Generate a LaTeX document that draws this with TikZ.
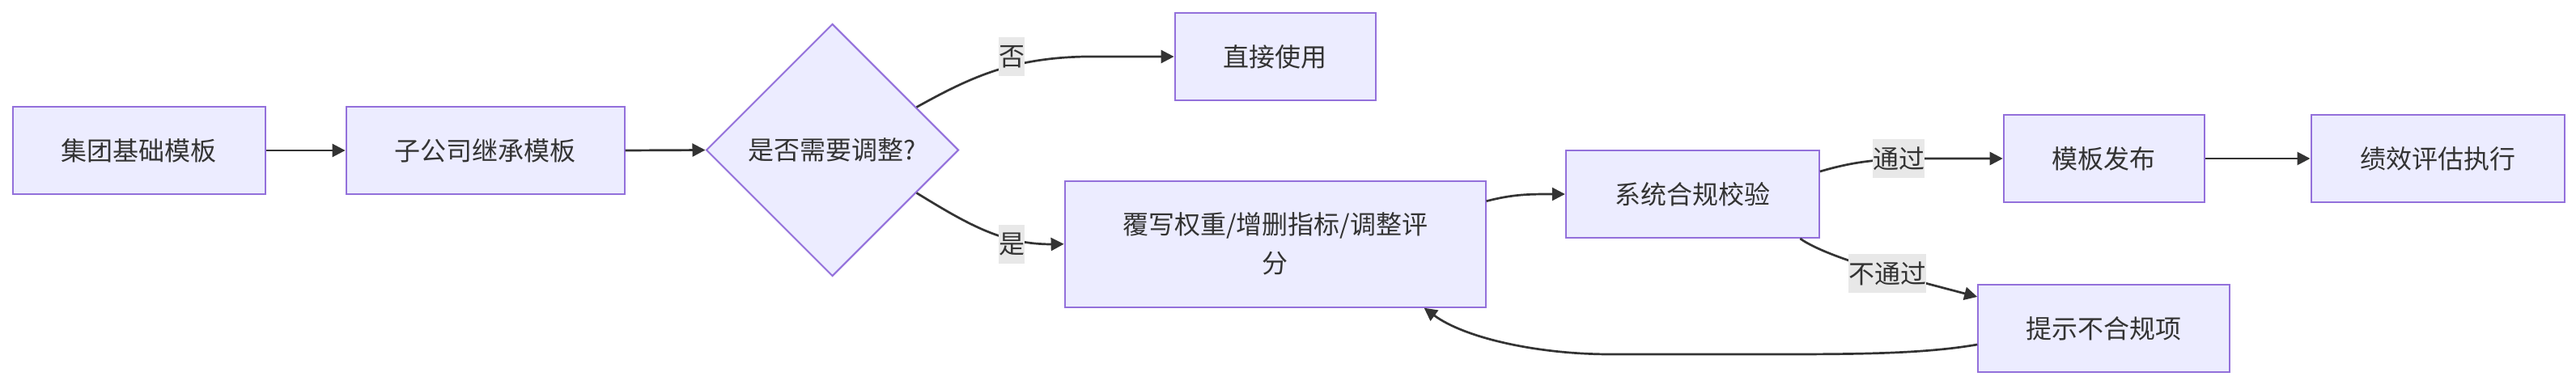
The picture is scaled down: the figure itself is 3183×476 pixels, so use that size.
\documentclass[tikz,border=0pt]{standalone}
\usepackage{fontspec}
\setmainfont{Noto Sans CJK SC}
\usetikzlibrary{shapes.geometric,arrows.meta,calc}
\definecolor{nodefill}{HTML}{ECECFF}
\definecolor{nodeline}{HTML}{9370DB}
\definecolor{txt}{HTML}{333333}
\definecolor{lblbg}{HTML}{E8E8E8}
\begin{document}
\begin{tikzpicture}[x=1pt,y=-1pt,
  box/.style={draw=nodeline, fill=nodefill, line width=2pt, inner sep=0pt,
    text=txt, font=\fontsize{32pt}{48pt}\selectfont, align=center},
  decision/.style={diamond, draw=nodeline, fill=nodefill, line width=2pt, inner sep=0pt,
    minimum width=312pt, minimum height=312pt, text=txt, font=\fontsize{32pt}{48pt}\selectfont},
  edge/.style={draw=txt, line width=2.7pt, -{Triangle[length=16pt,width=16pt]}},
  lbl/.style={fill=lblbg, inner sep=0pt, minimum height=48pt, text=txt,
    font=\fontsize{32pt}{48pt}\selectfont}
]
\fill[white] (0,0) rectangle (3183,476);
\useasboundingbox (0,0) rectangle (3183,476);

\node[box, minimum width=312pt, minimum height=108pt] (b1) at (171.5,186) {集团基础模板};
\node[box, minimum width=344pt, minimum height=108pt] (b2) at (599.6,186) {子公司继承模板};
\node[decision] (dia) at (1028.5,185.5) {是否需要调整?};
\node[box, minimum width=248pt, minimum height=108pt] (b3) at (1575.6,70) {直接使用};
\node[box, minimum width=520pt, minimum height=156pt] (b4) at (1575.6,301.7) {覆写权重/增删指标/调整评\\分};
\node[box, minimum width=313pt, minimum height=108pt] (b5) at (2091.3,240) {系统合规校验};
\node[box, minimum width=248pt, minimum height=108pt] (b6) at (2599.7,196) {模板发布};
\node[box, minimum width=313pt, minimum height=108pt] (b7) at (3012,196) {绩效评估执行};
\node[box, minimum width=311pt, minimum height=108pt] (b8) at (2599.7,406) {提示不合规项};

\draw[edge] (b1.east) -- (b2.west);
\draw[edge] (b2.east) -- (dia.west);
\draw[edge] (dia.27.6) .. controls (1200,95) and (1250,72) .. (1340,70) -- (b3.west);
\draw[edge] (dia.-27.6) .. controls (1200,280) and (1240,302) .. (1300,302) -- (b4.west);
\draw[edge] ([yshift=53pt]b4.east) .. controls (1870,240) and (1890,240) .. (b5.west);
\draw[edge] ([yshift=28pt]b5.east) .. controls (2290,200) and (2320,196) .. (2380,196) -- (b6.west);
\draw[edge] ([xshift=133pt]b5.south) .. controls (2260,320) and (2360,345) .. ([yshift=39pt]b8.west);
\draw[edge] ([yshift=-20pt]b8.west) .. controls (2380,437) and (2300,438) .. (2200,438) -- (1990,438)
  .. controls (1900,438) and (1810,418) .. ([xshift=184pt]b4.south);
\draw[edge] (b6.east) -- (b7.west);

\node[lbl] (l1) at (1250,70) {否};
\node[lbl] (l2) at (1250,302) {是};
\node[lbl] (l3) at (2346,196) {通过};
\node[lbl] (l4) at (2332,338) {不通过};
\end{tikzpicture}
\end{document}
